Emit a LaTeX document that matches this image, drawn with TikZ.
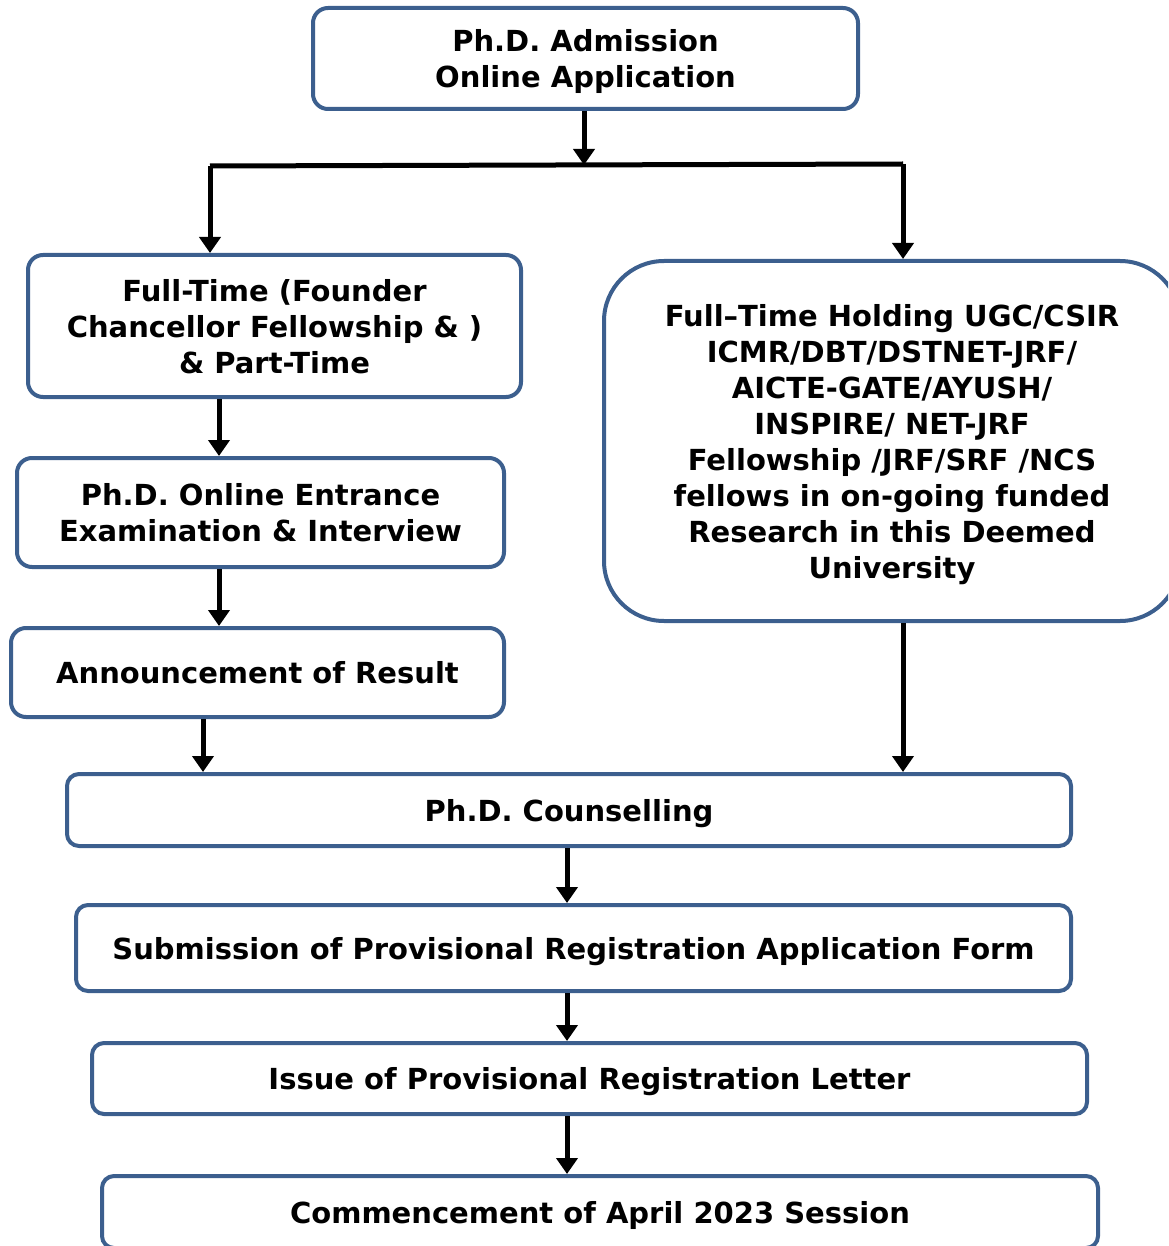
\documentclass[tikz,border=0pt]{standalone}
\usepackage{fontspec}
\setmainfont{DejaVu Sans}
\usetikzlibrary{arrows.meta}
\definecolor{boxblue}{HTML}{3C5F8E}
\tikzset{
  box/.style={draw=boxblue, line width=4pt, rounded corners=15pt, fill=white,
    align=center, font=\fontsize{29}{36}\selectfont\bfseries, inner sep=0pt, text depth=0pt},
  arr/.style={draw=black, line width=5pt, -{Triangle[width=21pt,length=16pt]}},
  ln/.style={draw=black, line width=5pt}
}
\begin{document}
\begin{tikzpicture}[x=1pt,y=-1pt]
\useasboundingbox (0,0) rectangle (1168,1246);
\clip (0,0) rectangle (1168,1246);
\node[box, minimum width=545pt, minimum height=101pt] (b1) at (585.5,58.5) {Ph.D. Admission\\Online Application};
\node[box, minimum width=493pt, minimum height=142pt] (b2) at (274.5,326) {Full-Time (Founder\\Chancellor Fellowship \& )\\\& Part-Time};
\node[box, minimum width=487pt, minimum height=109pt] (b3) at (260.5,512.5) {Ph.D. Online Entrance\\Examination \& Interview};
\node[box, minimum width=493pt, minimum height=89pt] (b4) at (257.5,672.5) {Announcement of Result};
\node[box, rounded corners=60pt, minimum width=576pt, minimum height=360pt] (r) at (892,441) {Full–Time Holding UGC/CSIR\\ICMR/DBT/DSTNET-JRF/\\AICTE-GATE/AYUSH/\\INSPIRE/ NET-JRF\\Fellowship /JRF/SRF /NCS\\fellows in on-going funded\\Research in this Deemed\\University};
\node[box, rounded corners=12pt, minimum width=1004pt, minimum height=72pt] (b5) at (569,810) {Ph.D. Counselling};
\node[box, rounded corners=12pt, minimum width=995pt, minimum height=86pt] (b6) at (573.5,948) {Submission of Provisional Registration Application Form};
\node[box, rounded corners=12pt, minimum width=995pt, minimum height=71pt] (b7) at (589.5,1078.5) {Issue of Provisional Registration Letter};
\node[box, rounded corners=12pt, minimum width=996pt, minimum height=72pt] (b8) at (600,1212) {Commencement of April 2023 Session};
\coordinate (j) at (584,165);
\coordinate (jl) at (210,166);
\coordinate (jr) at (903,164);
\draw[arr] (b1.south -| j) -- (j);
\draw[ln] (jl) -- (jr);
\draw[arr] (jl) -- (jl |- b2.north);
\draw[arr] (jr) -- (jr |- r.north);
\coordinate (a2) at (219,0);
\draw[arr] (a2 |- b2.south) -- (a2 |- b3.north);
\draw[arr] (a2 |- b3.south) -- (a2 |- b4.north);
\coordinate (a4) at (203,0);
\draw[arr] (a4 |- b4.south) -- (a4 |- b5.north);
\draw[arr] (jr |- r.south) -- (jr |- b5.north);
\coordinate (m) at (567,0);
\draw[arr] (m |- b5.south) -- (m |- b6.north);
\draw[arr] (m |- b6.south) -- (m |- b7.north);
\draw[arr] (m |- b7.south) -- (m |- b8.north);
\end{tikzpicture}
\end{document}
